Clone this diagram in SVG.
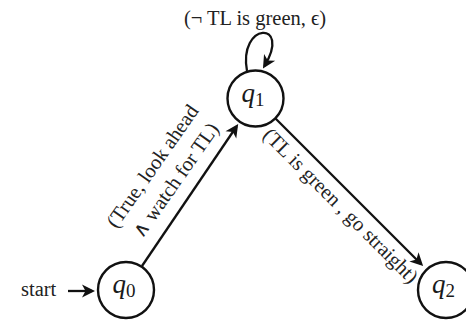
<svg xmlns="http://www.w3.org/2000/svg" width="466" height="321" viewBox="0 0 466 321">
<style>
.node circle{fill:#fff;stroke:#111;stroke-width:2.4}
.q{font-family:"Liberation Serif","DejaVu Serif",serif;font-size:27px;font-style:italic;fill:#1a1a1a}
.sub{font-size:19px;font-style:normal}
.lbl{font-family:"Liberation Serif","DejaVu Serif",serif;font-size:20.5px;fill:#222}
.edge{fill:none;stroke:#111;stroke-width:2.3}
</style>
<defs>
<marker id="arr" viewBox="-11 -7 16 14" markerWidth="16" markerHeight="14" refX="0" refY="0" markerUnits="userSpaceOnUse" orient="auto">
<path d="M3 0 L-10 -6.5 L-6.5 0 L-10 6.5 Z" fill="#111"/>
</marker>
</defs>
<g id="connectors">
<line class="edge" x1="68" y1="291" x2="92" y2="291" marker-end="url(#arr)"/>
<line class="edge" x1="142" y1="266" x2="236.5" y2="126.5" marker-end="url(#arr)"/>
<line class="edge" x1="275.5" y1="118.5" x2="421" y2="264" marker-end="url(#arr)"/>
<path class="edge" d="M247 71 C238 22 292 20 264.5 66" marker-end="url(#arr)"/>
<text class="lbl" x="21" y="296">start</text>
<text class="lbl" x="255" y="25" text-anchor="middle">(¬ TL is green, ϵ)</text>
<text class="lbl" text-anchor="middle" transform="translate(158,170) rotate(-55)">(True, look ahead</text>
<text class="lbl" text-anchor="middle" transform="translate(181,184) rotate(-55)">∧ watch for TL)</text>
<text class="lbl" text-anchor="middle" transform="translate(336,210.5) rotate(45)">(TL is green , go straight)</text>
</g>
<g id="q0" class="node">
<circle cx="126" cy="290" r="28"/>
<text class="q" x="112.5" y="293">q<tspan class="sub" dy="4">0</tspan></text>
</g>
<g id="q1" class="node">
<circle cx="255.5" cy="98.5" r="28"/>
<text class="q" x="241.5" y="101.5">q<tspan class="sub" dy="4">1</tspan></text>
</g>
<g id="q2" class="node">
<circle cx="446" cy="290" r="28"/>
<text class="q" x="432" y="293">q<tspan class="sub" dy="4">2</tspan></text>
</g>
</svg>
